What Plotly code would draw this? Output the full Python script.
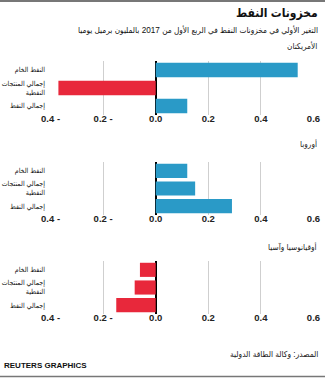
import plotly.graph_objects as go

W, H = 325, 378

categories = ["النفط الخام", "إجمالي المنتجات<br>النفطية", "إجمالي النفط"]
regions = ["الأمريكتان", "أوروبا", "أوقيانوسيا وآسيا"]
americas = [0.54, -0.37, 0.12]
europe = [0.12, 0.15, 0.29]
oceania_asia = [-0.06, -0.08, -0.15]
series = [americas, europe, oceania_asia]
tick_vals = [-0.4, -0.2, 0.0, 0.2, 0.4, 0.6]
tick_text = ["0.4 -", "0.2 -", "0.0", "0.2", "0.4", "0.6"]

title = "مخزونات النفط"
subtitle = "التغير الأولي في مخزونات النفط في الربع الأول من 2017 بالمليون برميل يوميا"
source = "المصدر: وكالة الطاقة الدولية"
brand = "REUTERS GRAPHICS"

BLUE = "#2a9ac7"
RED = "#e8283b"
FONT = "Liberation Sans, Arial, DejaVu Sans, sans-serif"
AR = "Liberation Sans, DejaVu Sans Condensed, DejaVu Sans, sans-serif"

panels_px = [(61, 115), (162, 215), (261, 314)]
title_px = [46, 144, 247]

def fy(px):
    return 1 - px / H

fig = go.Figure()
layout = dict(
    width=W, height=H, margin=dict(l=0, r=0, t=0, b=0, autoexpand=False),
    paper_bgcolor="white", plot_bgcolor="white",
    showlegend=False, bargap=0.2,
    font=dict(family=FONT, color="#222"),
)

x0, x1 = 50 / W, 314 / W
annotations = []
for i, (vals, (top, bot)) in enumerate(zip(series, panels_px)):
    k = "" if i == 0 else str(i + 1)
    colors = [BLUE if v >= 0 else RED for v in vals]
    fig.add_trace(go.Bar(
        x=vals, y=categories, orientation="h",
        marker=dict(color=colors, line=dict(width=0)),
        xaxis="x" + k, yaxis="y" + k, hoverinfo="skip",
    ))
    layout["xaxis" + k] = dict(
        domain=[x0, x1], anchor="y" + k, range=[-0.402, 0.602],
        tickvals=tick_vals, ticktext=tick_text, automargin=False,
        showgrid=True, gridcolor="#cfcfcf", gridwidth=1,
        zeroline=True, zerolinecolor="#000", zerolinewidth=1.5,
        showline=False, ticks="", ticklabelstandoff=-4,
        tickfont=dict(size=9.5, family=FONT, color="#222", weight="bold"),
        fixedrange=True,
    )
    layout["yaxis" + k] = dict(
        domain=[fy(bot), fy(top)], anchor="x" + k, automargin=False,
        autorange="reversed", showgrid=False, zeroline=False,
        ticks="", ticklabelstandoff=4,
        tickfont=dict(size=7, family=AR, color="#111"),
        fixedrange=True,
    )
    annotations.append(dict(
        text=regions[i], x=319 / W, y=fy(title_px[i]), xref="paper", yref="paper",
        xanchor="right", yanchor="middle", showarrow=False,
        font=dict(size=8.2, family=AR, color="#222"),
    ))

annotations += [
    dict(text="<b>" + title + "</b>", x=320 / W, y=fy(13), xref="paper", yref="paper",
         xanchor="right", yanchor="middle", showarrow=False,
         font=dict(size=12, family=AR, color="#111")),
    dict(text=subtitle, x=320 / W, y=fy(30), xref="paper", yref="paper",
         xanchor="right", yanchor="middle", showarrow=False,
         font=dict(size=8.2, family=AR, color="#111")),
    dict(text=source, x=320 / W, y=fy(354), xref="paper", yref="paper",
         xanchor="right", yanchor="middle", showarrow=False,
         font=dict(size=8.3, family=AR, color="#222")),
    dict(text="<b>" + brand + "</b>", x=2 / W, y=fy(365), xref="paper", yref="paper",
         xanchor="left", yanchor="middle", showarrow=False,
         font=dict(size=8, family=FONT, color="#111")),
]
layout["annotations"] = annotations
layout["shapes"] = [
    dict(type="line", xref="paper", yref="paper", x0=0, x1=1, y0=fy(1), y1=fy(1),
         line=dict(color="#777", width=2)),
    dict(type="line", xref="paper", yref="paper", x0=0, x1=1, y0=fy(376.5), y1=fy(376.5),
         line=dict(color="#777", width=1.5)),
]
fig.update_layout(**layout)
fig.write_html("out.html", config={"displayModeBar": False})
